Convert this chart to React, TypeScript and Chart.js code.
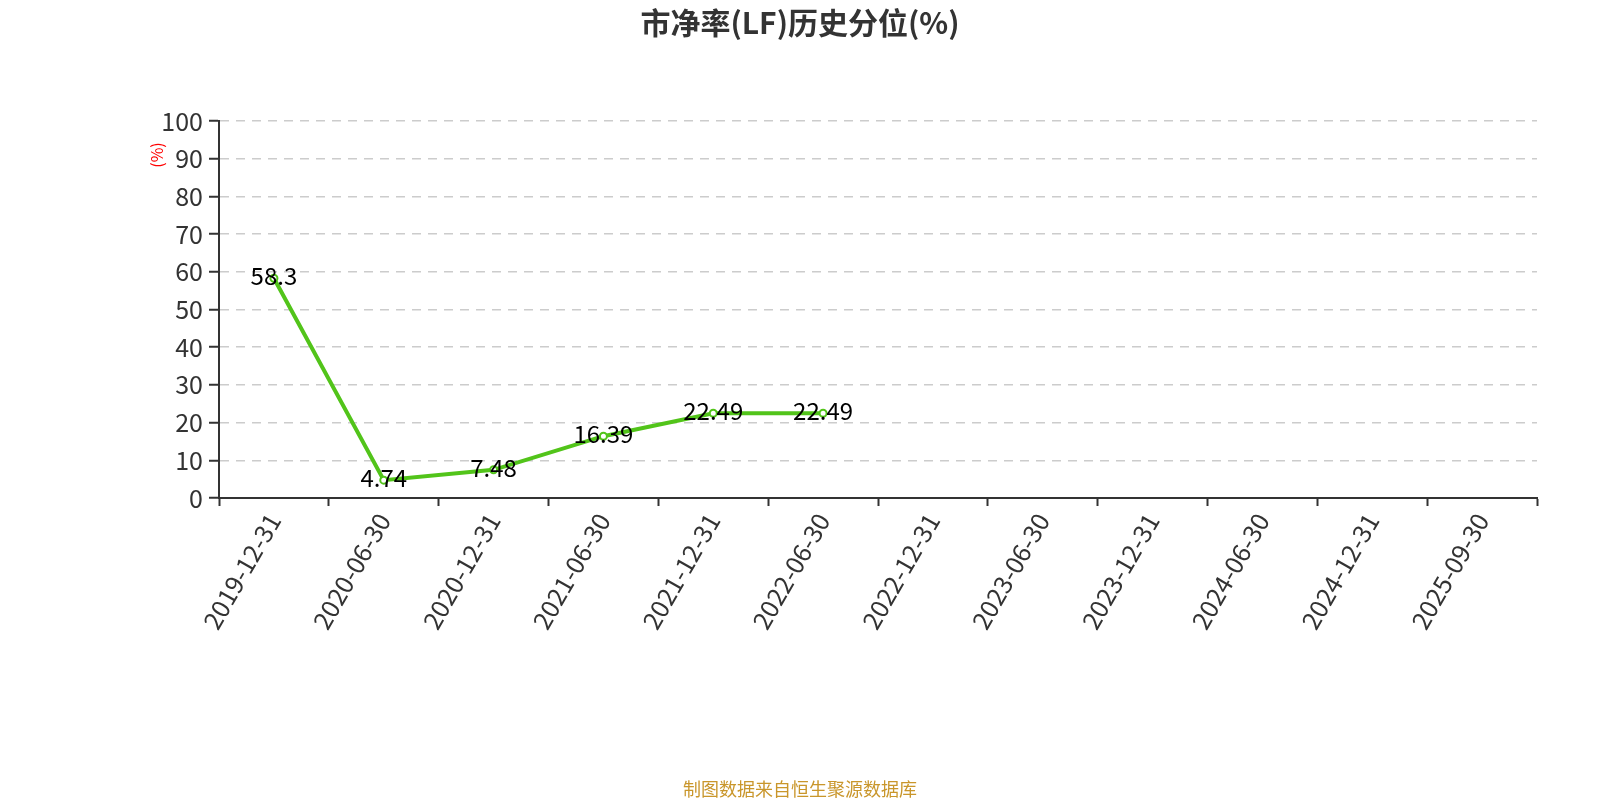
import React, { useEffect, useRef } from "react";
import { Chart, registerables } from "chart.js";

Chart.register(...registerables);

const categories = [
  "2019-12-31", "2020-06-30", "2020-12-31", "2021-06-30", "2021-12-31", "2022-06-30",
  "2022-12-31", "2023-06-30", "2023-12-31", "2024-06-30", "2024-12-31", "2025-09-30",
];
const percentileValues: (number | null)[] = [58.3, 4.74, 7.48, 16.39, 22.49, 22.49, null, null, null, null, null, null];
const yTicks = [0, 10, 20, 30, 40, 50, 60, 70, 80, 90, 100];

const titleText = "市净率(LF)历史分位(%)";
const footerText = "制图数据来自恒生聚源数据库";
const yUnitText = "(%)";

const FONT = "'Noto Sans CJK SC', 'Noto Sans', sans-serif";
const GREEN = "#52c41a";

const decorPlugin = {
  id: "decor",
  afterDatasetsDraw(chart: any) {
    const ctx = chart.ctx;
    ctx.save();
    const meta = chart.getDatasetMeta(0);
    ctx.font = `24px ${FONT}`;
    ctx.fillStyle = "#000";
    ctx.textAlign = "center";
    ctx.textBaseline = "middle";
    meta.data.forEach((pt: any, i: number) => {
      const v = percentileValues[i];
      if (v === null || v === undefined) return;
      ctx.fillText(String(v), pt.x, pt.y - 2);
    });
    ctx.restore();
  },
  afterDraw(chart: any) {
    const ctx = chart.ctx;
    ctx.save();
    // title
    ctx.font = `bold 30px ${FONT}`;
    ctx.fillStyle = "#333";
    ctx.textAlign = "center";
    ctx.textBaseline = "middle";
    ctx.fillText(titleText, 800, 23);
    // footer
    ctx.font = `18px ${FONT}`;
    ctx.fillStyle = "#c9962b";
    ctx.fillText(footerText, 800, 789);
    // y unit
    ctx.translate(157, 155);
    ctx.rotate(-Math.PI / 2);
    ctx.font = `16px ${FONT}`;
    ctx.fillStyle = "#ff0000";
    ctx.fillText(yUnitText, 0, 0);
    ctx.restore();
  },
};

export default function App() {
  const ref = useRef<HTMLCanvasElement>(null);
  useEffect(() => {
    document.body.style.margin = "0";
    const chart = new Chart(ref.current!, {
      type: "line",
      data: {
        labels: categories,
        datasets: [
          {
            data: percentileValues,
            borderColor: GREEN,
            backgroundColor: "#fff",
            borderWidth: 4,
            pointRadius: 3.5,
            pointBorderWidth: 2,
            pointBorderColor: GREEN,
            pointBackgroundColor: "#fff",
            tension: 0,
            spanGaps: false,
          },
        ],
      },
      options: {
        animation: false,
        responsive: false,
        layout: { padding: { left: 0, right: 63, top: 121, bottom: 0 } },
        plugins: { legend: { display: false }, tooltip: { enabled: false }, title: { display: false } },
        scales: {
          x: {
            offset: true,
            grid: {
              offset: true,
              drawOnChartArea: false,
              drawTicks: true,
              tickLength: 8,
              tickColor: "#333",
              tickWidth: 2,
            },
            border: { display: true, color: "#333", width: 2 },
            ticks: {
              autoSkip: false,
              maxRotation: 60,
              minRotation: 60,
              color: "#333",
              font: { size: 25, family: FONT },
              padding: 2,
            },
            afterFit(scale: any) {
              scale.height = 302;
            },
          },
          y: {
            min: 0,
            max: 100,
            afterBuildTicks(scale: any) {
              scale.ticks = yTicks.map((v) => ({ value: v }));
            },
            grid: {
              color: "#cccccc",
              lineWidth: 1.5,
              drawTicks: true,
              tickLength: 10,
              tickColor: "#333",
              tickWidth: 2,
            },
            border: { display: true, color: "#333", width: 2, dash: [9, 7] },
            ticks: {
              color: "#333",
              font: { size: 25, family: FONT },
              padding: 6,
            },
            afterFit(scale: any) {
              scale.width = 219;
            },
          },
        },
      },
      plugins: [decorPlugin],
    });
    return () => chart.destroy();
  }, []);
  return (
    <div style={{ position: "absolute", left: 0, top: 0, width: 1600, height: 800 }}>
      <canvas ref={ref} width={1600} height={800} style={{ width: 1600, height: 800 }} />
    </div>
  );
}
